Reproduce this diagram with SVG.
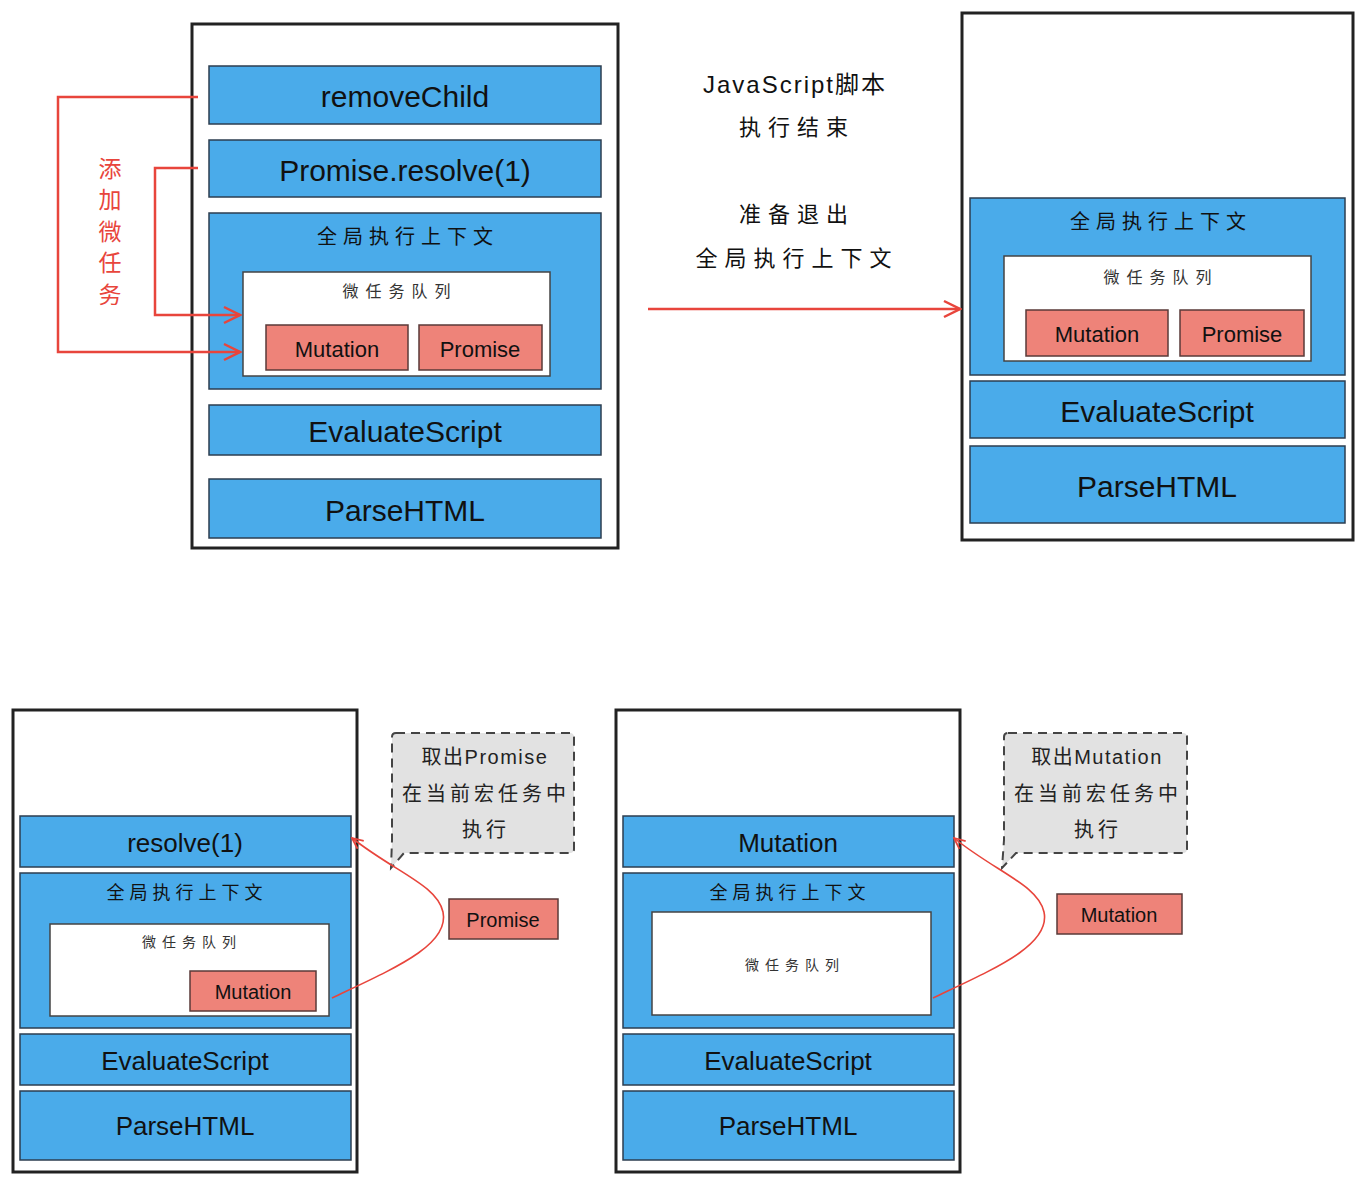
<svg xmlns="http://www.w3.org/2000/svg" width="1366" height="1184" viewBox="0 0 1366 1184">
<defs>
<marker id="arr" viewBox="0 0 20 20" refX="18" refY="10" markerWidth="20" markerHeight="20" markerUnits="userSpaceOnUse" orient="auto">
<path d="M2 2 L18 10 L2 18" fill="none" stroke="#e8453c" stroke-width="2.5"/>
</marker>
<marker id="arrs" viewBox="0 0 14 14" refX="13" refY="7" markerWidth="14" markerHeight="14" markerUnits="userSpaceOnUse" orient="auto">
<path d="M2 2 L13 7 L2 12" fill="none" stroke="#e8453c" stroke-width="1.8"/>
</marker>
</defs>
<style>
.frame{fill:#fff;stroke:#222;stroke-width:3}
.blue{fill:#4aabea;stroke:#2d3e50;stroke-width:1.5}
.white{fill:#fff;stroke:#444;stroke-width:1.5}
.red{fill:#ee8379;stroke:#5a3a38;stroke-width:1.5}
.callout{fill:#e2e2e2;stroke:#444;stroke-width:2;stroke-dasharray:9 6}
.t{font-family:"Liberation Sans","Noto Sans CJK SC",sans-serif;fill:#111;text-anchor:middle;dominant-baseline:central}
.big{font-size:30px}
.mid{font-size:26px}
.sm{font-size:22px}
.cn{font-size:20px;letter-spacing:6px}
.cn2{font-size:18px;letter-spacing:5px}
.cns{font-size:16px;letter-spacing:7px;fill:#333}
.cns2{font-size:14px;letter-spacing:6px;fill:#333}
.cnm{font-size:22px;letter-spacing:7px}
.lat{font-size:24px;letter-spacing:2px}
.co{font-size:20px;letter-spacing:4px;fill:#222}
.col{font-size:20px;letter-spacing:1.5px;fill:#222}
.box20{font-size:20px}
.line{fill:none;stroke:#e8453c;stroke-width:2.5}
.line2{fill:none;stroke:#e8453c;stroke-width:1.6}
</style>

<g id="panel1">
<rect class="frame" x="192" y="24" width="426" height="524"/>
<g id="p1-removeChild"><rect class="blue" x="209" y="66" width="392" height="58"/><text class="t big" x="405" y="96">removeChild</text></g>
<g id="p1-promiseResolve"><rect class="blue" x="209" y="140" width="392" height="57"/><text class="t big" x="405" y="170">Promise.resolve(1)</text></g>
<g id="p1-global"><rect class="blue" x="209" y="213" width="392" height="176"/><text class="t cn" x="408" y="237">全局执行上下文</text>
<rect class="white" x="243" y="272" width="307" height="104"/><text class="t cns" x="400" y="291">微任务队列</text>
<g id="p1-mutation"><rect class="red" x="266" y="325" width="142" height="45"/><text class="t sm" x="337" y="349">Mutation</text></g>
<g id="p1-promise"><rect class="red" x="419" y="325" width="123" height="45"/><text class="t sm" x="480" y="349">Promise</text></g>
</g>
<g id="p1-evaluate"><rect class="blue" x="209" y="405" width="392" height="50"/><text class="t big" x="405" y="431">EvaluateScript</text></g>
<g id="p1-parse"><rect class="blue" x="209" y="479" width="392" height="59"/><text class="t big" x="405" y="510">ParseHTML</text></g>
</g>

<g id="label-add" fill="#e8453c" font-family="'Liberation Sans','Noto Sans CJK SC',sans-serif" font-size="23" text-anchor="middle">
<text x="110" y="177">添</text><text x="110" y="208">加</text><text x="110" y="240">微</text><text x="110" y="271">任</text><text x="110" y="303">务</text>
</g>

<g id="mid-text">
<text class="t lat" x="795" y="84">JavaScript脚本</text>
<text class="t cnm" x="797" y="127">执行结束</text>
<text class="t cnm" x="797" y="214">准备退出</text>
<text class="t cnm" x="797" y="258">全局执行上下文</text>
</g>

<g id="panel2">
<rect class="frame" x="962" y="13" width="391" height="527"/>
<g id="p2-global"><rect class="blue" x="970" y="198" width="375" height="177"/><text class="t cn" x="1161" y="222">全局执行上下文</text>
<rect class="white" x="1004" y="256" width="307" height="105"/><text class="t cns" x="1161" y="277">微任务队列</text>
<g id="p2-mutation"><rect class="red" x="1026" y="310" width="142" height="46"/><text class="t sm" x="1097" y="334">Mutation</text></g>
<g id="p2-promise"><rect class="red" x="1180" y="310" width="124" height="46"/><text class="t sm" x="1242" y="334">Promise</text></g>
</g>
<g id="p2-evaluate"><rect class="blue" x="970" y="381" width="375" height="57"/><text class="t big" x="1157" y="411">EvaluateScript</text></g>
<g id="p2-parse"><rect class="blue" x="970" y="446" width="375" height="77"/><text class="t big" x="1157" y="486">ParseHTML</text></g>
</g>

<g id="panel3">
<rect class="frame" x="13" y="710" width="344" height="462"/>
<g id="p3-resolve"><rect class="blue" x="20" y="816" width="331" height="51"/><text class="t mid" x="185" y="843">resolve(1)</text></g>
<g id="p3-global"><rect class="blue" x="20" y="873" width="331" height="155"/><text class="t cn2" x="187" y="893">全局执行上下文</text>
<rect class="white" x="50" y="924" width="279" height="92"/><text class="t cns2" x="192" y="942">微任务队列</text>
<g id="p3-mutation"><rect class="red" x="190" y="971" width="126" height="40"/><text class="t box20" x="253" y="992">Mutation</text></g>
</g>
<g id="p3-evaluate"><rect class="blue" x="20" y="1034" width="331" height="51"/><text class="t mid" x="185" y="1061">EvaluateScript</text></g>
<g id="p3-parse"><rect class="blue" x="20" y="1091" width="331" height="69"/><text class="t mid" x="185" y="1126">ParseHTML</text></g>
</g>
<g id="p3-callout">
<path class="callout" d="M396 733 H570 Q574 733 574 737 V849 Q574 853 570 853 H404 L391 868 L392 840 V737 Q392 733 396 733 Z"/>
<text class="t col" x="485" y="757">取出Promise</text>
<text class="t co" x="486" y="794">在当前宏任务中</text>
<text class="t co" x="486" y="830">执行</text>
</g>
<g id="p3-promise-box"><rect class="red" x="449" y="899" width="109" height="40"/><text class="t box20" x="503" y="920">Promise</text></g>

<g id="panel4">
<rect class="frame" x="616" y="710" width="344" height="462"/>
<g id="p4-mutation"><rect class="blue" x="623" y="816" width="331" height="51"/><text class="t mid" x="788" y="843">Mutation</text></g>
<g id="p4-global"><rect class="blue" x="623" y="873" width="331" height="155"/><text class="t cn2" x="790" y="893">全局执行上下文</text>
<rect class="white" x="652" y="912" width="279" height="103"/><text class="t cns2" x="795" y="965">微任务队列</text>
</g>
<g id="p4-evaluate"><rect class="blue" x="623" y="1034" width="331" height="51"/><text class="t mid" x="788" y="1061">EvaluateScript</text></g>
<g id="p4-parse"><rect class="blue" x="623" y="1091" width="331" height="69"/><text class="t mid" x="788" y="1126">ParseHTML</text></g>
</g>
<g id="p4-callout">
<path class="callout" d="M1008 733 H1183 Q1187 733 1187 737 V849 Q1187 853 1183 853 H1016 L1002 868 L1004 840 V737 Q1004 733 1008 733 Z"/>
<text class="t col" x="1097" y="757">取出Mutation</text>
<text class="t co" x="1098" y="794">在当前宏任务中</text>
<text class="t co" x="1098" y="830">执行</text>
</g>
<g id="p4-mutation-box"><rect class="red" x="1057" y="894" width="125" height="40"/><text class="t box20" x="1119" y="915">Mutation</text></g>

<g id="connectors">
<path class="line" d="M198 97 H58 V352 H240" marker-end="url(#arr)"/>
<path class="line" d="M198 168 H155 V315 H240" marker-end="url(#arr)"/>
<path class="line" d="M648 309 H960" marker-end="url(#arr)"/>
<path class="line2" d="M332 998 C395 968 450 945 443 912 C437 885 395 872 352 838" marker-end="url(#arrs)"/>
<path class="line2" d="M933 998 C996 968 1051 945 1044 912 C1038 885 996 872 954 838" marker-end="url(#arrs)"/>
</g>
</svg>
